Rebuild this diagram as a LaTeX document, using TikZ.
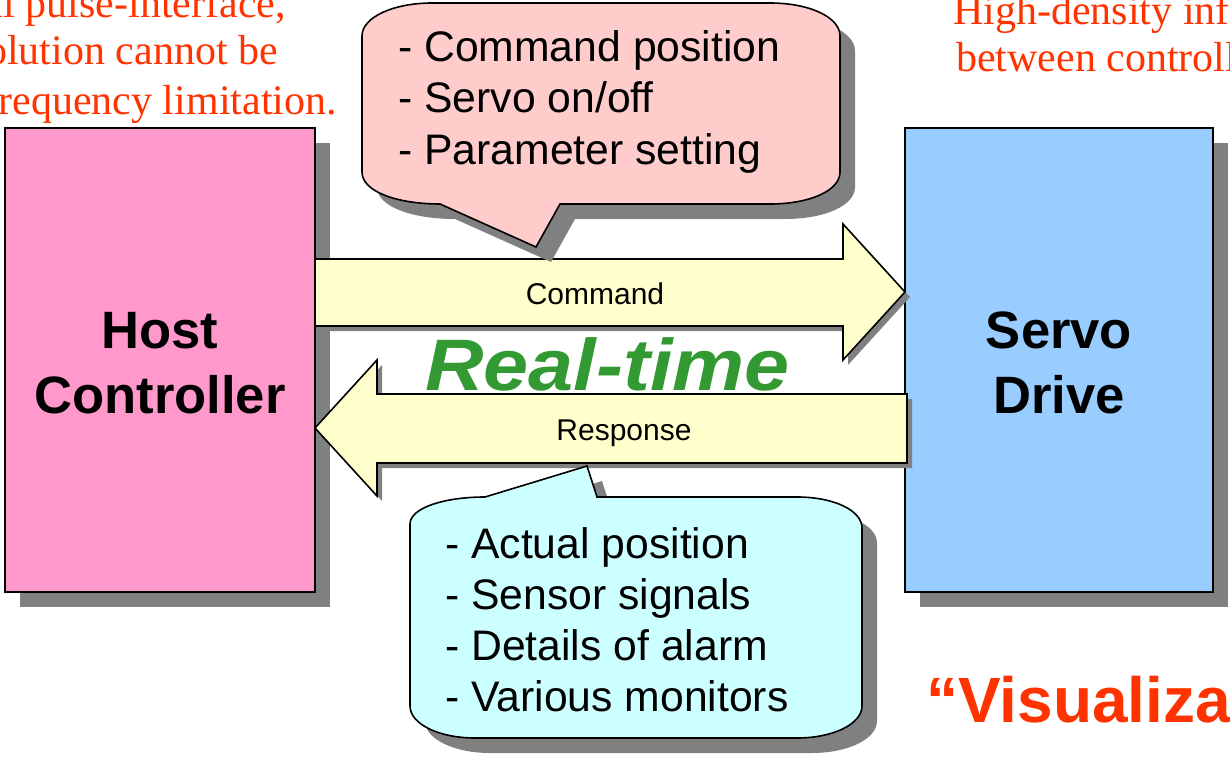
\documentclass[tikz,border=0pt]{standalone}
\usepackage{fontspec}
\setmainfont{Liberation Serif}
\newfontfamily\arialfont{Liberation Sans}

\definecolor{hostpink}{HTML}{FF99CC}
\definecolor{drivblue}{HTML}{99CCFF}
\definecolor{arrowyellow}{HTML}{FFFFCC}
\definecolor{cmdpink}{HTML}{FFCCCC}
\definecolor{respcyan}{HTML}{CCFFFF}
\definecolor{shadowgray}{HTML}{808080}
\definecolor{notered}{HTML}{FF3300}
\definecolor{rtgreen}{HTML}{339933}

\tikzset{
  outline/.style={draw=black, line width=1.6pt, line join=miter},
  shadowfill/.style={fill=shadowgray, draw=none},
  unitbox/.style={outline, minimum width=310pt, minimum height=464pt, inner sep=0pt},
  unitlabel/.style={font=\arialfont\bfseries\fontsize{52.6}{52.6}\selectfont, anchor=base, inner sep=0pt},
  itemtext/.style={font=\arialfont\fontsize{42.7}{42.7}\selectfont, anchor=base west, inner sep=0pt},
  flowtext/.style={font=\arialfont\fontsize{30}{30}\selectfont, anchor=base, inner sep=0pt},
  remark/.style={font=\fontsize{42}{42}\selectfont, text=notered, inner sep=0pt},
}

\begin{document}
\begin{tikzpicture}[x=1pt, y=-1pt]
\useasboundingbox (0,0) rectangle (1230,757);

% --- unit boxes with drop shadows ---
\fill[shadowfill] (20,143) rectangle (330,607);
\fill[shadowfill] (920,143) rectangle (1228,607);
\node[unitbox, fill=hostpink] (host) at (160,360) {};
\node[unitbox, fill=drivblue, minimum width=308pt] (drive) at (1059,360) {};

% --- command arrow (host -> drive) ---
\fill[shadowfill, shift={(5,5)}]
  (315,259) -- (843,259) -- (843,224) -- (905,292) -- (843,360) -- (843,326) -- (315,326) -- cycle;
\draw[outline, fill=arrowyellow]
  (315,259) -- (843,259) -- (843,224) -- (905,292) -- (843,360) -- (843,326) -- (315,326) -- cycle;

% --- response arrow (drive -> host) ---
\fill[shadowfill, shift={(5,5)}]
  (315,428) -- (377,360) -- (377,394) -- (907,394) -- (907,463) -- (377,463) -- (377,496) -- cycle;
\draw[outline, fill=arrowyellow]
  (315,428) -- (377,360) -- (377,394) -- (907,394) -- (907,463) -- (377,463) -- (377,496) -- cycle;

% --- command callout ---
\def\cmdcallout{
  (362,36) .. controls (362,17) and (394,3) .. (432,3) -- (770,3)
  .. controls (809,3) and (840,17) .. (840,36) -- (840,172)
  .. controls (840,191) and (809,204) .. (770,204) -- (560,204) -- (536,247) -- (440,204)
  .. controls (398,204) and (362,192) .. (362,172) -- cycle}
\fill[shadowfill, shift={(15,15)}] \cmdcallout;
\draw[outline, fill=cmdpink] \cmdcallout;

% --- response callout ---
\def\respcallout{
  (410,524) .. controls (410,508) and (444,497) .. (485,497) -- (587,466) -- (597,497) -- (797,497)
  .. controls (833,497) and (862,510) .. (862,528) -- (862,706)
  .. controls (862,724) and (833,738) .. (797,738) -- (475,738)
  .. controls (439,738) and (410,724) .. (410,706) -- cycle}
\fill[shadowfill, shift={(15,15)}] \respcallout;
\draw[outline, fill=respcyan] \respcallout;

% --- unit labels ---
\node[unitlabel] (hostA) at (160,348) {Host};
\node[unitlabel] (hostB) at (160,413) {Controller};
\node[unitlabel] (driveA) at (1059,348) {Servo};
\node[unitlabel] (driveB) at (1059,413) {Drive};

% --- arrow labels ---
\node[flowtext] (cmdlabel) at (595,304) {Command};
\node[flowtext] (resplabel) at (624,440) {Response};
\node[font=\arialfont\bfseries\itshape\fontsize{73}{73}\selectfont, text=rtgreen,
      anchor=base west, inner sep=0pt, xscale=1.11] (realtime) at (425,390) {Real-time};

% --- callout items ---
\node[itemtext] (c1) at (398,62) {- Command position};
\node[itemtext] (c2) at (398,113) {- Servo on/off};
\node[itemtext] (c3) at (398,164) {- Parameter setting};
\node[itemtext] (r1) at (445,558) {- Actual position};
\node[itemtext] (r2) at (445,609) {- Sensor signals};
\node[itemtext] (r3) at (445,660) {- Details of alarm};
\node[itemtext] (r4) at (445,711) {- Various monitors};

% --- remarks ---
\node[remark, anchor=base east] (n1) at (286,18) {In conventional pulse-interface,};
\node[remark, anchor=base east] (n2) at (278,65) {resolution cannot be};
\node[remark, anchor=base east] (n3) at (337,114) {frequency limitation.};
\node[remark, anchor=base west] (m1) at (953,25) {High-density information};
\node[remark, anchor=base west] (m2) at (956,72) {between controller and drive};
\node[font=\arialfont\bfseries\fontsize{64}{64}\selectfont, text=notered,
      anchor=base west, inner sep=0pt] (vis) at (926,722) {“Visualization”};
\end{tikzpicture}
\end{document}
